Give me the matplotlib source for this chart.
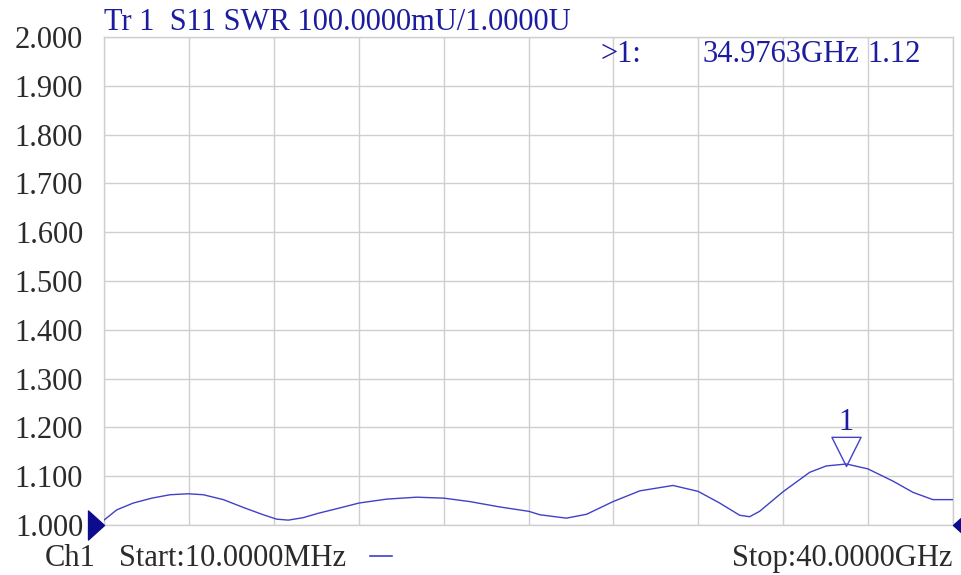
import numpy as np
import matplotlib
matplotlib.use("Agg")
import matplotlib.pyplot as plt
from matplotlib.path import Path

# S11 SWR trace
freq_ghz = [0.01, 0.61, 1.39, 2.26, 3.12, 3.98, 4.69, 5.63, 6.57, 7.51,
            8.14, 8.69, 9.39, 10.10, 11.12, 12.02, 13.32, 14.73, 16.02, 17.24,
            18.65, 20.02, 20.54, 21.79, 22.74, 23.99, 25.25, 26.81, 27.99, 29.01,
            29.95, 30.42, 30.89, 31.99, 33.25, 34.03, 34.98, 35.99, 37.17, 38.11,
            39.05, 40.00]
swr = [1.010, 1.031, 1.045, 1.055, 1.062, 1.064, 1.062, 1.052, 1.036, 1.021,
       1.012, 1.010, 1.015, 1.024, 1.035, 1.045, 1.053, 1.057, 1.055, 1.048,
       1.037, 1.028, 1.021, 1.014, 1.022, 1.048, 1.070, 1.081, 1.069, 1.045,
       1.020, 1.017, 1.028, 1.068, 1.108, 1.121, 1.125, 1.115, 1.090, 1.067,
       1.052, 1.052]

marker_freq = 34.9763
marker_swr = 1.12
start_ghz = 0.01
stop_ghz = 40.0
y_ticks = [1.0, 1.1, 1.2, 1.3, 1.4, 1.5, 1.6, 1.7, 1.8, 1.9, 2.0]

W, H = 962, 575
TRACE = "#4040c8"
NAVY = "#1c1ca0"
DARK = "#2b2b2b"
GRID = "#cfcfcf"
FONT = "Liberation Serif"
FS = 22

plt.rcParams["font.family"] = FONT

fig = plt.figure(figsize=(W / 100, H / 100), dpi=100)
# plot area: x 104..953 px, y 37..525 px
ax = fig.add_axes([104 / W, 1 - 525 / H, (953 - 104) / W, (525 - 37) / H])

ax.plot(freq_ghz, swr, color=TRACE, lw=1.0, zorder=3)

ax.set_xlim(start_ghz, stop_ghz)
ax.set_ylim(y_ticks[0], y_ticks[-1])
ax.set_xticks(np.linspace(start_ghz, stop_ghz, 11))
ax.set_yticks(y_ticks)
ax.set_yticklabels([f"{v:.3f}" for v in y_ticks])
ax.tick_params(axis="x", length=0, labelbottom=False)
ax.tick_params(axis="y", length=0, pad=15, labelsize=FS, labelcolor=DARK)
ax.grid(True, color=GRID, lw=1)
for s in ax.spines.values():
    s.set_color(GRID)
    s.set_linewidth(1)

# marker 1: hollow down triangle with apex on the trace
tri_down = Path([(0, 0), (-1, 2), (1, 2), (0, 0)],
                [Path.MOVETO, Path.LINETO, Path.LINETO, Path.CLOSEPOLY])
ax.plot([marker_freq], [marker_swr], marker=tri_down, ms=42, mfc="none",
        mec=TRACE, mew=1, ls="none", zorder=4, clip_on=False)
ax.annotate("1", xy=(marker_freq, marker_swr), xytext=(0, 44),
            textcoords="offset pixels", ha="center", va="center",
            fontsize=FS, color=NAVY)

# reference level arrows on both edges
tri_right = Path([(0, 0), (-16, 14.5), (-16, -14.5), (0, 0)],
                 [Path.MOVETO, Path.LINETO, Path.LINETO, Path.CLOSEPOLY])
tri_left = Path([(0, 0), (16, 14.5), (16, -14.5), (0, 0)],
                [Path.MOVETO, Path.LINETO, Path.LINETO, Path.CLOSEPOLY])
ax.plot([start_ghz], [y_ticks[0]], marker=tri_right, ms=23, color="#0c0c8c",
        ls="none", clip_on=False, zorder=5)
ax.plot([stop_ghz], [y_ticks[0]], marker=tri_left, ms=23, color="#0c0c8c",
        ls="none", clip_on=False, zorder=5)


def px(x, y):
    return x / W, 1 - y / H


fig.text(*px(104, 30), "Tr 1  S11 SWR 100.0000mU/1.0000U", fontsize=FS,
         color=NAVY, ha="left", va="baseline")
fig.text(*px(601, 62), ">1:", fontsize=FS, color=NAVY, ha="left", va="baseline")
fig.text(*px(703, 62), f"{marker_freq:.4f}GHz", fontsize=FS, color=NAVY,
         ha="left", va="baseline")
fig.text(*px(867, 62), f"{marker_swr:.2f}", fontsize=FS, color=NAVY,
         ha="left", va="baseline")

fig.text(*px(45, 566), "Ch1", fontsize=FS, color=DARK, ha="left", va="baseline")
fig.text(*px(119, 566), "Start:10.0000MHz", fontsize=FS, color=DARK,
         ha="left", va="baseline")
fig.add_artist(plt.Line2D([370 / W, 392 / W], [1 - 556 / H, 1 - 556 / H],
                          color=TRACE, lw=1.2))
fig.text(*px(953, 566), "Stop:40.0000GHz", fontsize=FS, color=DARK,
         ha="right", va="baseline")

fig.savefig("out.png", dpi=100, facecolor="white")
